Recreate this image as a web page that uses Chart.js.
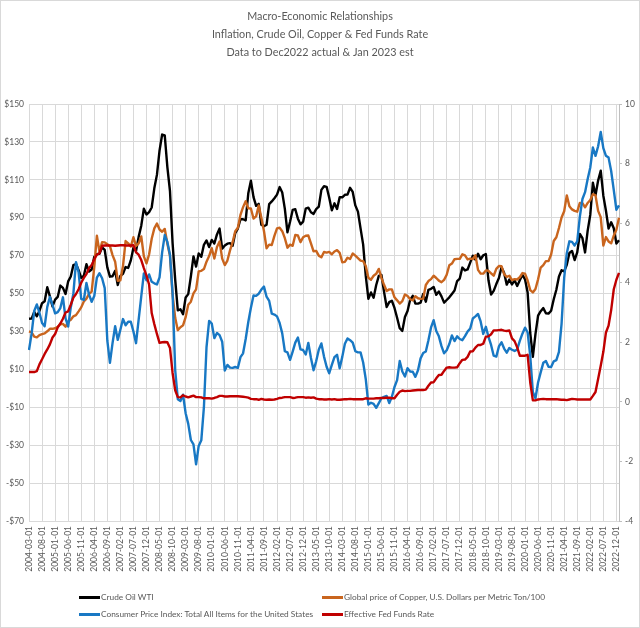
<!DOCTYPE html>
<html>
<head>
<meta charset="utf-8">
<script src="https://cdn.jsdelivr.net/npm/chart.js@4.4.1/dist/chart.umd.min.js"></script>
<style>
html, body { margin: 0; padding: 0; background: #fff; }
#wrap { position: relative; width: 640px; height: 628px; }
#wrap canvas { position: absolute; left: 0; top: 0; }
#frame { position: absolute; left: 0; top: 0; width: 640px; height: 628px; box-sizing: border-box; border: 1px solid #d9d9d9; pointer-events: none; }
.leg { position: absolute; font: 8.3px Lato, sans-serif; color: #595959; line-height: 12px; white-space: nowrap; }
.leg .sw { display: inline-block; width: 21px; height: 3px; vertical-align: middle; margin-right: 1px; }
</style>
</head>
<body>
<div id="wrap">
  <canvas id="macroChart" width="640" height="628"></canvas>
  <div class="leg" style="left:79px;top:591px"><span class="sw" style="background:#000000"></span>Crude Oil WTI</div>
  <div class="leg" style="left:322px;top:591px"><span class="sw" style="background:#C9651E"></span>Global price of Copper, U.S. Dollars per Metric Ton/100</div>
  <div class="leg" style="left:79px;top:608px"><span class="sw" style="background:#1878C4"></span>Consumer Price Index: Total All Items for the United States</div>
  <div class="leg" style="left:322px;top:608px"><span class="sw" style="background:#C00000"></span>Effective Fed Funds Rate</div>
  <div id="frame"></div>
</div>
<script>

// MONTHLY DATA, 2004-03 TO 2023-01
const startYear = 2004;
const startMonth = 3;

const crudeOil = [
    36.7, 36.8, 40.3, 38.0, 40.8, 44.9, 45.9, 53.3, 48.5, 43.2,
    46.8, 48.2, 54.2, 53.0, 49.8, 56.4, 59.0, 65.0, 65.6, 62.3, 58.3, 59.4,
    65.5, 61.6, 62.7, 69.4, 70.8, 71.0, 74.4, 73.0, 63.8, 58.9, 59.1, 62.0,
    54.5, 59.3, 60.4, 64.0, 63.5, 67.5, 74.1, 72.4, 79.9, 85.8, 94.8, 91.7,
    93.0, 95.4, 105.5, 112.6, 125.4, 133.9, 133.4, 116.7, 104.1, 76.6, 57.3, 41.1,
    41.7, 39.1, 47.9, 49.7, 59.0, 69.6, 64.2, 71.1, 69.4, 75.7, 78.0, 74.5,
    78.3, 76.4, 81.2, 84.3, 73.7, 75.3, 76.3, 76.6, 75.2, 81.9, 84.3, 89.2,
    89.2, 88.6, 102.9, 109.5, 100.9, 96.3, 97.3, 86.3, 85.5, 86.3, 97.2, 98.6,
    100.3, 102.2, 106.2, 103.3, 94.7, 82.3, 87.9, 94.1, 94.5, 89.5, 86.5, 87.9,
    94.8, 95.3, 92.9, 92.0, 94.5, 95.8, 104.7, 106.6, 106.3, 100.5, 93.9, 97.6,
    94.6, 100.8, 100.8, 102.1, 102.2, 105.8, 103.6, 96.5, 93.2, 84.4, 75.8, 59.3,
    47.2, 50.6, 47.8, 54.5, 59.3, 59.8, 50.9, 42.9, 45.5, 46.2, 42.4, 37.2,
    31.7, 30.3, 37.6, 40.8, 46.7, 48.8, 44.7, 44.7, 45.2, 49.8, 45.7, 52.0,
    52.5, 53.5, 49.3, 51.1, 48.5, 45.2, 46.6, 48.0, 49.8, 51.6, 56.6, 57.9,
    63.7, 62.2, 62.7, 66.3, 70.0, 67.9, 71.0, 68.1, 70.2, 70.8, 57.0, 49.5,
    51.4, 55.0, 58.2, 63.9, 60.8, 54.7, 57.4, 54.8, 57.0, 54.0, 57.0, 59.9,
    57.5, 50.5, 29.2, 16.6, 28.6, 38.3, 40.7, 42.3, 39.6, 39.4, 40.9, 47.0,
    52.0, 59.0, 62.3, 61.7, 65.2, 71.4, 72.5, 67.7, 71.7, 81.5, 79.2, 71.7,
    83.2, 91.6, 108.5, 101.8, 109.6, 114.8, 101.6, 93.7, 84.3, 87.6, 84.4, 76.4,
    78.1
];

const copper = [
    30.0, 29.5, 27.3, 26.9, 28.1, 28.6, 29.0, 30.1, 31.4, 31.4,
    31.7, 32.5, 33.8, 34.0, 32.5, 35.3, 36.2, 38.0, 38.6, 40.6, 42.7, 45.8,
    47.3, 49.8, 51.0, 63.9, 80.5, 72.0, 77.1, 77.0, 76.0, 75.0, 70.3, 66.8,
    56.7, 57.0, 64.5, 77.7, 76.5, 74.8, 79.7, 75.1, 76.5, 80.1, 69.6, 65.9,
    70.6, 78.9, 84.4, 86.9, 83.8, 82.6, 84.1, 76.3, 69.9, 49.3, 37.2, 30.7,
    32.2, 33.2, 37.5, 44.1, 45.7, 50.1, 52.2, 61.7, 62.0, 62.9, 66.8, 69.8,
    73.9, 68.5, 74.6, 77.5, 68.4, 65.0, 67.4, 72.8, 77.1, 82.9, 84.7, 91.5,
    95.6, 98.7, 95.0, 94.9, 89.6, 90.7, 96.5, 90.0, 83.0, 73.9, 75.8, 75.6,
    80.4, 84.4, 84.7, 82.9, 79.2, 74.2, 75.8, 75.2, 80.9, 80.6, 77.1, 79.7,
    80.5, 80.6, 76.5, 72.3, 72.5, 70.0, 69.1, 71.9, 71.6, 72.0, 70.7, 72.2,
    72.9, 71.5, 66.5, 66.7, 68.9, 68.2, 71.1, 70.0, 68.7, 67.4, 67.1, 64.5,
    58.3, 57.3, 59.4, 60.4, 63.0, 58.3, 54.6, 51.3, 52.2, 52.2, 48.0, 46.4,
    44.7, 46.0, 49.5, 48.7, 47.0, 46.4, 48.6, 47.5, 47.2, 47.3, 54.5, 56.6,
    57.6, 59.4, 58.2, 56.8, 56.0, 57.2, 59.9, 64.9, 65.8, 68.1, 68.3, 68.3,
    70.7, 70.1, 68.0, 68.4, 68.2, 70.2, 62.5, 60.5, 60.5, 62.2, 62.0, 60.7,
    59.4, 63.0, 64.5, 64.4, 60.2, 58.8, 59.4, 57.1, 57.6, 57.4, 58.6, 60.8,
    60.5, 56.9, 51.8, 50.6, 52.4, 57.5, 63.7, 65.0, 67.1, 67.1, 70.6, 77.7,
    79.7, 84.6, 90.1, 93.4, 101.8, 96.1, 94.4, 93.6, 93.2, 97.8, 97.7, 95.5,
    97.8, 99.4, 102.4, 101.8, 93.6, 90.3, 75.3, 79.8, 77.5, 76.5, 80.5, 83.7,
    90.0
];

const cpi = [
    1.74, 2.29, 3.05, 3.27, 2.99, 2.65, 2.54, 3.19, 3.52, 3.26,
    2.97, 3.01, 3.15, 3.51, 2.80, 2.53, 3.17, 3.64, 4.69, 4.35, 3.46, 3.42,
    3.99, 3.60, 3.36, 3.55, 4.17, 4.32, 4.15, 3.82, 2.06, 1.31, 1.97, 2.54,
    2.08, 2.42, 2.78, 2.57, 2.69, 2.69, 2.36, 1.97, 2.76, 3.54, 4.31, 4.08,
    4.28, 4.03, 3.98, 3.94, 4.18, 5.02, 5.60, 5.37, 4.94, 3.66, 1.07, 0.09,
    0.03, 0.24, -0.38, -0.74, -1.28, -1.43, -2.10, -1.48, -1.29, -0.18, 1.84, 2.72,
    2.63, 2.14, 2.31, 2.24, 2.02, 1.05, 1.24, 1.15, 1.14, 1.17, 1.14, 1.50,
    1.63, 2.11, 2.68, 3.16, 3.57, 3.56, 3.63, 3.77, 3.87, 3.53, 3.39, 2.96,
    2.93, 2.87, 2.65, 2.30, 1.70, 1.66, 1.41, 1.69, 1.99, 2.16, 1.76, 1.74,
    1.59, 1.98, 1.47, 1.06, 1.36, 1.75, 1.96, 1.52, 1.18, 0.96, 1.24, 1.50,
    1.58, 1.13, 1.51, 1.95, 2.13, 2.07, 1.99, 1.70, 1.66, 1.66, 1.32, 0.76,
    -0.09, -0.03, -0.07, -0.20, -0.04, 0.12, 0.17, 0.20, -0.04, 0.17, 0.50, 0.73,
    1.37, 1.02, 0.85, 1.13, 1.02, 1.01, 0.84, 1.06, 1.46, 1.64, 1.69, 2.07,
    2.50, 2.74, 2.38, 2.20, 1.87, 1.63, 1.73, 1.94, 2.23, 2.04, 2.20, 2.11,
    2.07, 2.21, 2.36, 2.46, 2.80, 2.87, 2.95, 2.70, 2.28, 2.52, 2.18, 1.91,
    1.55, 1.52, 1.86, 2.00, 1.79, 1.65, 1.81, 1.75, 1.71, 1.76, 2.05, 2.29,
    2.49, 2.33, 1.54, 0.33, 0.12, 0.65, 0.99, 1.31, 1.37, 1.18, 1.17, 1.36,
    1.40, 1.68, 2.62, 4.16, 4.99, 5.39, 5.37, 5.25, 5.39, 6.22, 6.81, 7.04,
    7.48, 7.87, 8.54, 8.26, 8.58, 9.06, 8.52, 8.26, 8.20, 7.75, 7.11, 6.45,
    6.60
];

const fedFunds = [
    1.00, 1.00, 1.00, 1.03, 1.26, 1.43, 1.61, 1.76, 1.93, 2.16,
    2.28, 2.50, 2.63, 2.79, 3.00, 3.04, 3.26, 3.50, 3.62, 3.78, 4.00, 4.16,
    4.29, 4.49, 4.59, 4.79, 4.94, 4.99, 5.24, 5.25, 5.25, 5.25, 5.25, 5.24,
    5.25, 5.26, 5.26, 5.25, 5.25, 5.25, 5.26, 5.02, 4.94, 4.76, 4.49, 4.24,
    3.94, 2.98, 2.61, 2.28, 1.98, 2.00, 2.01, 2.00, 1.81, 0.97, 0.39, 0.16,
    0.15, 0.22, 0.18, 0.15, 0.18, 0.21, 0.16, 0.16, 0.15, 0.12, 0.12, 0.12,
    0.11, 0.13, 0.16, 0.20, 0.20, 0.18, 0.18, 0.19, 0.19, 0.19, 0.19, 0.18,
    0.17, 0.16, 0.14, 0.10, 0.09, 0.09, 0.07, 0.10, 0.08, 0.07, 0.08, 0.07,
    0.08, 0.10, 0.13, 0.14, 0.16, 0.16, 0.16, 0.13, 0.14, 0.16, 0.16, 0.16,
    0.14, 0.15, 0.14, 0.15, 0.11, 0.09, 0.09, 0.08, 0.08, 0.09, 0.08, 0.09,
    0.07, 0.07, 0.08, 0.09, 0.09, 0.10, 0.09, 0.09, 0.09, 0.09, 0.09, 0.12,
    0.11, 0.11, 0.11, 0.12, 0.12, 0.13, 0.13, 0.14, 0.14, 0.12, 0.12, 0.24,
    0.34, 0.38, 0.36, 0.37, 0.37, 0.38, 0.39, 0.40, 0.40, 0.40, 0.41, 0.54,
    0.65, 0.66, 0.79, 0.90, 0.91, 1.04, 1.15, 1.16, 1.15, 1.15, 1.16, 1.30,
    1.41, 1.42, 1.51, 1.69, 1.70, 1.82, 1.91, 1.91, 1.95, 2.19, 2.20, 2.27,
    2.40, 2.40, 2.41, 2.42, 2.39, 2.38, 2.40, 2.13, 2.04, 1.83, 1.55, 1.55,
    1.55, 1.58, 0.65, 0.05, 0.05, 0.08, 0.09, 0.10, 0.09, 0.09, 0.09, 0.09,
    0.09, 0.08, 0.07, 0.07, 0.06, 0.08, 0.10, 0.09, 0.08, 0.08, 0.08, 0.08,
    0.08, 0.08, 0.20, 0.33, 0.77, 1.21, 1.68, 2.33, 2.56, 3.08, 3.78, 4.10,
    4.33
];

const titleLines = [
    "Macro-Economic Relationships",
    "Inflation, Crude Oil, Copper & Fed Funds Rate",
    "Data to Dec2022 actual & Jan 2023 est"
];

const tickEvery = 5;
const textColor = "#595959";
const gridColor = "#d9d9d9";


// BUILD MONTH LABELS (YYYY-MM-01)
const months = [];
for(let i = 0; i < crudeOil.length; i++){
    const m = startMonth - 1 + i;
    const y = startYear + Math.floor(m / 12);
    const mm = String(m % 12 + 1).padStart(2, "0");
    months.push(`${y}-${mm}-01`);
}


// HORIZONTAL AXIS LINE AT $0
const zeroLine = {
    id: "zeroLine",
    beforeDatasetsDraw(chart){
        const {ctx, chartArea, scales} = chart;
        const y = Math.round(scales.y.getPixelForValue(0)) + 0.5;
        ctx.save();
        ctx.strokeStyle = gridColor;
        ctx.lineWidth = 1;
        ctx.beginPath();
        ctx.moveTo(chartArea.left, y);
        ctx.lineTo(chartArea.right, y);
        ctx.stroke();
        ctx.restore();
    }
};


function line(label, data, color, axis, order){
    return {
        label: label,
        data: data,
        yAxisID: axis,
        borderColor: color,
        backgroundColor: color,
        borderWidth: 2.4,
        borderJoinStyle: "round",
        pointRadius: 0,
        tension: 0,
        order: order
    };
}


new Chart(document.getElementById("macroChart"), {
    type: "line",
    data: {
        labels: months,
        datasets: [
            line("Crude Oil WTI", crudeOil, "#000000", "y", 4),
            line("Global price of Copper, U.S. Dollars per Metric Ton/100", copper, "#C9651E", "y", 3),
            line("Consumer Price Index: Total All Items for the United States", cpi, "#1878C4", "y1", 2),
            line("Effective Fed Funds Rate", fedFunds, "#C00000", "y1", 1)
        ]
    },
    options: {
        responsive: false,
        devicePixelRatio: 1,
        animation: false,
        events: [],
        layout: { padding: 0 },
        plugins: {
            legend: { display: false },
            tooltip: { enabled: false },
            title: {
                display: true,
                text: titleLines,
                color: textColor,
                font: { family: "Lato", size: 10.8, weight: "normal", lineHeight: "18px" },
                padding: { top: 8, bottom: 42 }
            }
        },
        scales: {
            x: {
                offset: false,
                border: { display: false },
                grid: {
                    drawTicks: false,
                    color: ctx => ctx.index % tickEvery === 0 ? gridColor : "transparent"
                },
                ticks: {
                    autoSkip: false,
                    minRotation: 90,
                    maxRotation: 90,
                    padding: 5,
                    color: textColor,
                    font: { family: "Lato", size: 8.5 },
                    callback: function(value, index){
                        return index % tickEvery === 0 ? this.getLabelForValue(value) : "";
                    }
                },
                afterFit: scale => { scale.height = 107; }
            },
            y: {
                position: "left",
                min: -70,
                max: 150,
                border: { display: false },
                grid: { color: gridColor, drawTicks: false },
                ticks: {
                    stepSize: 20,
                    padding: 5,
                    color: textColor,
                    font: { family: "Lato", size: 8.5 },
                    callback: v => (v < 0 ? "-$" : "$") + Math.abs(v)
                },
                afterFit: scale => { scale.width = 29; }
            },
            y1: {
                position: "right",
                min: -4,
                max: 10,
                border: { display: true, color: "#bfbfbf" },
                grid: { drawOnChartArea: false, drawTicks: true, tickLength: 3, color: "#bfbfbf" },
                ticks: {
                    stepSize: 2,
                    padding: 3,
                    color: textColor,
                    font: { family: "Lato", size: 8.5 }
                },
                afterFit: scale => { scale.width = 21; }
            }
        }
    },
    plugins: [zeroLine]
});

</script>
</body>
</html>
